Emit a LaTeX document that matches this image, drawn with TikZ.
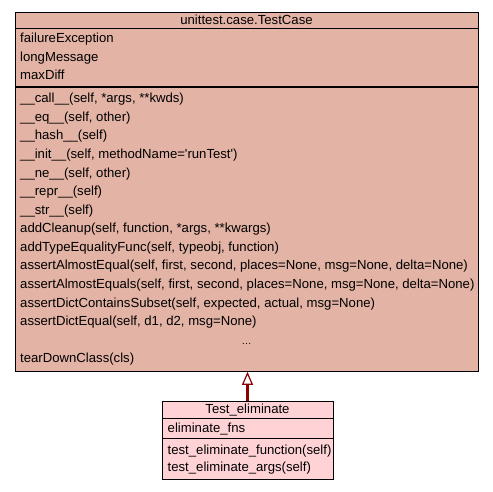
\documentclass[tikz,border=0pt]{standalone}
\usepackage{fontspec}
\setmainfont{Liberation Sans}
\usetikzlibrary{arrows.meta}
\definecolor{basefill}{HTML}{E3B3A5}
\definecolor{childfill}{HTML}{FFD3D6}
\definecolor{inh}{HTML}{8B0000}
\tikzset{
  classbox/.style={draw=black, line width=1.3pt, inner sep=0pt, anchor=north west},
  sepline/.style={draw=black, line width=1.6pt},
  txt/.style={anchor=base west, inner sep=0pt, font=\fontsize{13.15}{15}\selectfont},
  ttl/.style={anchor=base, inner sep=0pt, font=\fontsize{13.15}{15}\selectfont},
  inherit/.style={draw=inh, line width=2.2pt, -{Triangle[length=13pt,width=11pt,fill=white,line width=1.2pt]}}
}
\begin{document}
\begin{tikzpicture}[x=1pt,y=-1pt]
\useasboundingbox (0,0) rectangle (493,491);
% base class
\node[classbox, fill=basefill, minimum width=463pt, minimum height=359pt] (base) at (15,11.5) {};
\draw[sepline] (15,28.5) -- (478,28.5);
\draw[sepline] (15,87) -- (478,87);
\node[ttl] (bt) at (246.5,24.5) {unittest.case.TestCase};
\node[txt] (a1) at (20,42.7) {failureException};
\node[txt] (a2) at (20,61.3) {longMessage};
\node[txt] (a3) at (20,79.8) {maxDiff};
\node[txt] (m0) at (20,102.7) {\_\_call\_\_(self, *args, **kwds)};
\node[txt] (m1) at (20,121.3) {\_\_eq\_\_(self, other)};
\node[txt] (m2) at (20,139.8) {\_\_hash\_\_(self)};
\node[txt] (m3) at (20,158.4) {\_\_init\_\_(self, methodName=\textquotesingle runTest\textquotesingle)};
\node[txt] (m4) at (20,177.0) {\_\_ne\_\_(self, other)};
\node[txt] (m5) at (20,195.6) {\_\_repr\_\_(self)};
\node[txt] (m6) at (20,214.1) {\_\_str\_\_(self)};
\node[txt] (m7) at (20,232.7) {addCleanup(self, function, *args, **kwargs)};
\node[txt] (m8) at (20,251.3) {addTypeEqualityFunc(self, typeobj, function)};
\node[txt] (m9) at (20,269.9) {assertAlmostEqual(self, first, second, places=None, msg=None, delta=None)};
\node[txt] (m10) at (20,288.4) {assertAlmostEquals(self, first, second, places=None, msg=None, delta=None)};
\node[txt] (m11) at (20,307.0) {assertDictContainsSubset(self, expected, actual, msg=None)};
\node[txt] (m12) at (20,325.6) {assertDictEqual(self, d1, d2, msg=None)};
\node[ttl, font=\fontsize{10}{12}\selectfont] (m13) at (246.5,344.1) {…};
\node[txt] (m14) at (20,362.7) {tearDownClass(cls)};
% derived class
\node[classbox, fill=childfill, minimum width=171pt, minimum height=78pt] (child) at (162,401) {};
\draw[sepline] (162,418.5) -- (333,418.5);
\draw[sepline] (162,438.5) -- (333,438.5);
\node[ttl] (ct) at (247.5,413.3) {Test\_eliminate};
\node[txt] (c1) at (167.5,432.3) {eliminate\_fns};
\node[txt] (c2) at (167.5,454.0) {test\_eliminate\_function(self)};
\node[txt] (c3) at (167.5,471.7) {test\_eliminate\_args(self)};
% inheritance
\draw[inherit] (child.north -| 247.5,0) -- (base.south -| 247.5,0);
\end{tikzpicture}
\end{document}
